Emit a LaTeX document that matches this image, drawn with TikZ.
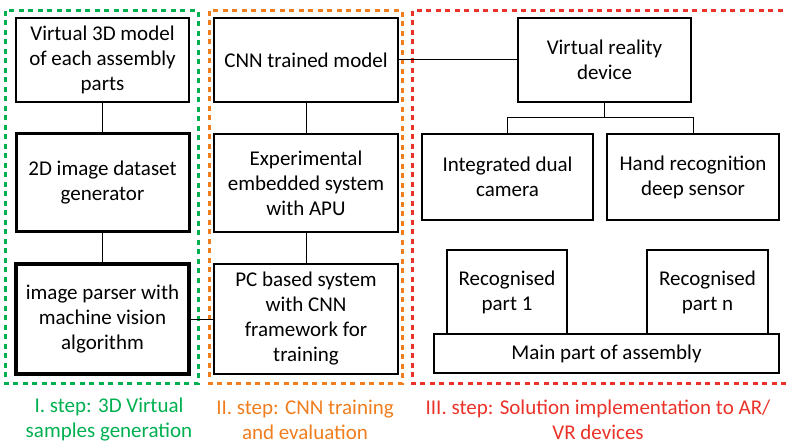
\documentclass[tikz,border=0pt]{standalone}
\usepackage{fontspec}
\setmainfont{Carlito}
\usepackage{tikz}

\definecolor{stepgreen}{RGB}{0,176,80}
\definecolor{steporange}{RGB}{240,125,30}
\definecolor{stepred}{RGB}{235,50,40}

\tikzset{
  unit/.style={draw, line width=2pt, align=center, inner sep=0pt,
    font=\fontsize{21}{25}\selectfont},
  frame/.style={line width=3pt, dash pattern=on 5pt off 4.5pt},
  link/.style={line width=1pt},
  steplabel/.style={align=center, font=\fontsize{21}{25}\selectfont}
}

\begin{document}
\begin{tikzpicture}[x=1pt,y=-1pt]
				\useasboundingbox (0,0) rectangle (786,443);
				% frames of the three steps
				\draw[frame, stepgreen] (5,11) rectangle (198,383);
				\draw[frame, steporange] (209,11) rectangle (402,383);
				\draw[frame, stepred] (412,11) rectangle (800,383);
				% step I
				\node[unit, minimum width=173pt, minimum height=84pt] (model) at (102.5,60) {Virtual 3D model\\of each assembly\\parts};
				\node[unit, line width=3pt, minimum width=173pt, minimum height=98pt] (gen) at (102.5,183) {2D image dataset\\generator};
				\node[unit, line width=4pt, minimum width=173pt, minimum height=110pt] (parser) at (102.5,319) {image parser with\\machine vision\\algorithm};
				% step II
				\node[unit, minimum width=184pt, minimum height=84pt] (cnn) at (306,60) {CNN trained model};
				\node[unit, minimum width=184pt, minimum height=98pt] (emb) at (306,183) {Experimental\\embedded system\\with APU};
				\node[unit, minimum width=184pt, minimum height=110pt] (pc) at (306,319) {PC based system\\with CNN\\framework for\\training};
				% step III
				\node[unit, minimum width=173pt, minimum height=84pt] (vr) at (604.5,60) {Virtual reality\\device};
				\node[unit, minimum width=171pt, minimum height=86pt] (cam) at (507.5,177) {Integrated dual\\camera};
				\node[unit, minimum width=172pt, minimum height=86pt] (hand) at (693,177) {Hand recognition\\deep sensor};
				\node[unit, minimum width=120pt, minimum height=84pt] (part1) at (507,292) {Recognised\\part 1};
				\node[unit, minimum width=121pt, minimum height=84pt] (partn) at (707.5,292) {Recognised\\part n};
				\node[unit, minimum width=345pt, minimum height=39pt] (base) at (606.5,353.5) {Main part of assembly};
				% connections
				\draw[link] (model) -- (gen);
				\draw[link] (gen) -- (parser);
				\draw[link] (cnn) -- (emb);
				\draw[link] (emb) -- (pc);
				\draw[link] (parser) -- (pc);
				\draw[link] (cnn) -- (vr);
				\coordinate (fork) at (604.5,118);
				\draw[link] (vr) -- (fork);
				\draw[link] (fork) -| (cam.north);
				\draw[link] (fork) -| (hand.north);
				% step labels
				\node[steplabel, stepgreen] (lab1) at (109,420) {I. step: 3D Virtual\\samples generation};
				\node[steplabel, steporange] (lab2) at (305,420) {II. step: CNN training\\and evaluation};
				\node[steplabel, stepred] (lab3) at (598,420) {III. step: Solution implementation to AR/\\VR devices};
			\end{tikzpicture}
\end{document}
